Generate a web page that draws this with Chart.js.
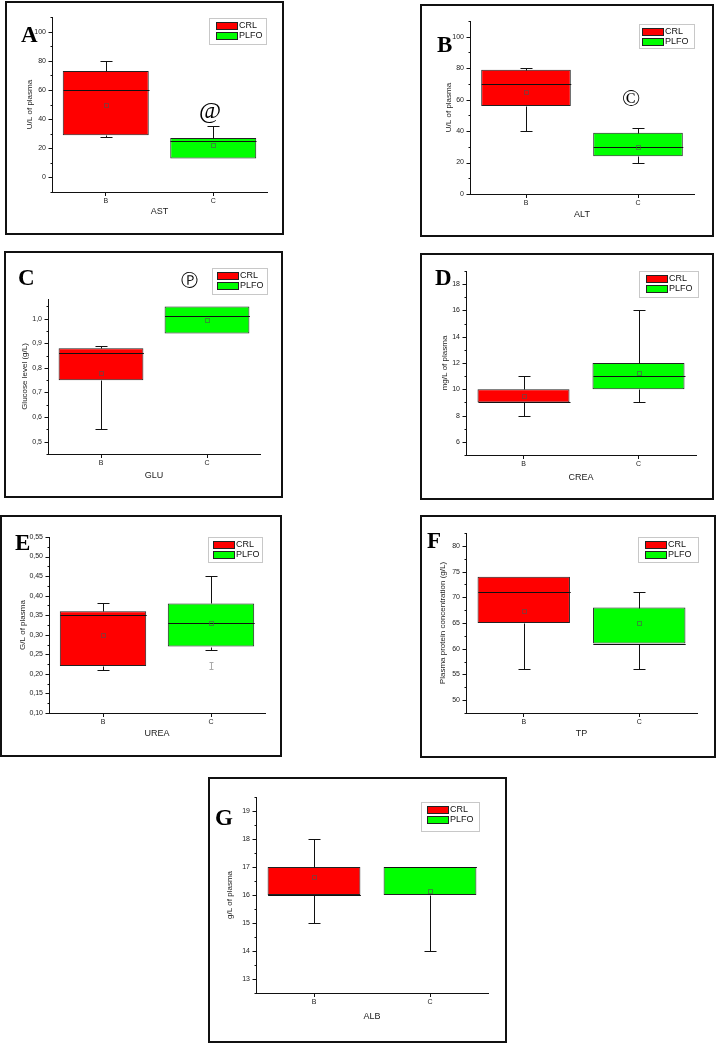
<!DOCTYPE html>
<html><head><meta charset="utf-8">
<script src="https://cdn.jsdelivr.net/npm/chart.js@4.4.1/dist/chart.umd.min.js"></script>
<style>
html,body{margin:0;padding:0;background:#fff;}
body{width:717px;height:1044px;position:relative;overflow:hidden;}
canvas{position:absolute;}
.frame{position:absolute;border:2px solid #111;box-sizing:border-box;pointer-events:none;}
</style></head><body>
<script>
// ---------- DATA ----------
const CATEGORIES = ['B', 'C'];
const SERIES = ['CRL', 'PLFO'];
// box statistics, order: min, q1, median, q3, max, mean
const AST_CRL  = [28, 29, 60, 73, 80, 50];
const AST_PLFO = [13, 13, 25, 27, 35, 22];
const ALT_CRL  = [40, 56, 70, 79, 80, 65];
const ALT_PLFO = [20, 24, 30, 39, 42, 30];
const GLU_CRL  = [0.55, 0.75, 0.86, 0.88, 0.89, 0.78];
const GLU_PLFO = [0.94, 0.94, 1.01, 1.05, 1.05, 0.995];
const CREA_CRL  = [8, 9, 9, 10, 11, 9.5];
const CREA_PLFO = [9, 10, 11, 12, 16, 11.25];
const UREA_CRL  = [0.21, 0.22, 0.35, 0.36, 0.38, 0.30];
const UREA_PLFO = [0.26, 0.27, 0.33, 0.38, 0.45, 0.33];
const UREA_PLFO_MARK = [0.212, 0.23];
const TP_CRL  = [56, 65, 71, 74, 74, 67.3];
const TP_PLFO = [56, 61, 61, 68, 71, 65];
const ALB_CRL  = [15, 16, 16, 17, 18, 16.65];
const ALB_PLFO = [14, 16, 17, 17, 17, 16.15];
// labelled (major) y ticks
const AST_YMAJOR  = [0, 20, 40, 60, 80, 100];
const ALT_YMAJOR  = [0, 20, 40, 60, 80, 100];
const GLU_YMAJOR  = [0.5, 0.6, 0.7, 0.8, 0.9, 1.0];
const CREA_YMAJOR = [6, 8, 10, 12, 14, 16, 18];
const UREA_YMAJOR = [0.10, 0.15, 0.20, 0.25, 0.30, 0.35, 0.40, 0.45, 0.50, 0.55];
const TP_YMAJOR   = [50, 55, 60, 65, 70, 75, 80];
const ALB_YMAJOR  = [13, 14, 15, 16, 17, 18, 19];

// ---------- LAYOUT ----------
const PANELS = [
  {letter:'A', xTitle:'AST', yTitle:'U/L of plasma', crl:AST_CRL, plfo:AST_PLFO, major:AST_YMAJOR, dec:0,
   min:-10, max:110, step:10,
   frame:[5,1,279,234], plot:[52,17,267,192], yTitleX:30, xTitleY:212, letterPos:[21,42],
   legend:[209,18,57,26,216], note:{text:'@', x:210, y:112, font:'24px "Liberation Serif", serif'}},
  {letter:'B', xTitle:'ALT', yTitle:'U/L of plasma', crl:ALT_CRL, plfo:ALT_PLFO, major:ALT_YMAJOR, dec:0,
   min:0, max:110, step:10,
   frame:[420,4,294,233], plot:[470,21,694,194], yTitleX:449, xTitleY:215, letterPos:[437,52],
   legend:[639,24,55,24,642], note:{text:'\u00A9', x:631, y:100, font:'24px "Liberation Serif", serif'}},
  {letter:'C', xTitle:'GLU', yTitle:'Glucose level (g/L)', crl:GLU_CRL, plfo:GLU_PLFO, major:GLU_YMAJOR, dec:1,
   min:0.45, max:1.08, step:0.05,
   frame:[4,251,279,247], plot:[48,299,260,454], yTitleX:25, xTitleY:476, letterPos:[18,285],
   legend:[212,268,55,26,217], note:{text:'\u24C5', x:189, y:282, font:'17px "DejaVu Sans", sans-serif'}},
  {letter:'D', xTitle:'CREA', yTitle:'mg/L of plasma', crl:CREA_CRL, plfo:CREA_PLFO, major:CREA_YMAJOR, dec:0,
   min:5, max:19, step:1,
   frame:[420,253,294,247], plot:[466,271,696,455], yTitleX:445, xTitleY:478, letterPos:[435,285],
   legend:[639,271,59,26,646]},
  {letter:'E', xTitle:'UREA', yTitle:'G/L of plasma', crl:UREA_CRL, plfo:UREA_PLFO, major:UREA_YMAJOR, dec:2,
   min:0.10, max:0.55, step:0.025, mark:UREA_PLFO_MARK,
   frame:[0,515,282,242], plot:[49,537,265,713], yTitleX:23, xTitleY:734, letterPos:[15,550],
   legend:[208,537,54,25,213]},
  {letter:'F', xTitle:'TP', yTitle:'Plasma protein concentration (g/L)', crl:TP_CRL, plfo:TP_PLFO, major:TP_YMAJOR, dec:0,
   min:47.5, max:82.5, step:2.5,
   frame:[420,515,296,243], plot:[466,533,697,713], yTitleX:443, xTitleY:734, letterPos:[427,548],
   legend:[638,537,60,25,645]},
  {letter:'G', xTitle:'ALB', yTitle:'g/L of plasma', crl:ALB_CRL, plfo:ALB_PLFO, major:ALB_YMAJOR, dec:0,
   min:12.5, max:19.5, step:0.5,
   frame:[208,777,299,266], plot:[256,797,488,993], yTitleX:230, xTitleY:1017, letterPos:[215,825],
   legend:[421,802,58,29,427]}
];

const FONT = '"Liberation Sans", Arial, Helvetica, sans-serif';
const COLORS = ['#ff0000', '#00ff00'];
function fmt(v, dec){ return v.toFixed(dec).replace('.', ','); }

function makePlugin(p){
  const fx = p.frame[0], fy = p.frame[1];
  return {
    id: 'panel' + p.letter,
    afterDatasetsDraw(chart){
      const ctx = chart.ctx, ys = chart.scales.y;
      const py = v => Math.round(ys.getPixelForValue(v)) + 0.5;
      const seg = (x1,y1,x2,y2) => { ctx.beginPath(); ctx.moveTo(x1,y1); ctx.lineTo(x2,y2); ctx.stroke(); };
      chart.data.datasets.forEach((ds, di) => {
        const el = chart.getDatasetMeta(di).data[di];
        const s = ds.stats;
        const cx = Math.round(el.x) + 0.5, hw = el.width / 2;
        ctx.save();
        ctx.strokeStyle = '#111'; ctx.lineWidth = 1;
        seg(cx - hw, py(s[2]), cx + hw, py(s[2]));
        if (s[4] > s[3]) { seg(cx, py(s[3]), cx, py(s[4])); seg(cx - 6, py(s[4]), cx + 6, py(s[4])); }
        if (s[0] < s[1]) { seg(cx, py(s[1]), cx, py(s[0])); seg(cx - 6, py(s[0]), cx + 6, py(s[0])); }
        ctx.strokeStyle = 'rgba(80,80,80,0.6)';
        ctx.strokeRect(cx - 2, py(s[5]) - 2, 4, 4);
        ctx.restore();
      });
      if (p.mark) {
        const el = chart.getDatasetMeta(1).data[1];
        const cx = Math.round(el.x) + 0.5;
        ctx.save(); ctx.strokeStyle = '#aaa'; ctx.lineWidth = 1;
        seg(cx, py(p.mark[0]), cx, py(p.mark[1]));
        seg(cx - 2, py(p.mark[0]), cx + 2, py(p.mark[0]));
        seg(cx - 2, py(p.mark[1]), cx + 2, py(p.mark[1]));
        ctx.restore();
      }
    },
    afterDraw(chart){
      const ctx = chart.ctx, ys = chart.scales.y;
      const ax = Math.round(chart.chartArea.left) + 0.5;
      const seg = (x1,y1,x2,y2) => { ctx.beginPath(); ctx.moveTo(x1,y1); ctx.lineTo(x2,y2); ctx.stroke(); };
      ctx.save();
      ctx.strokeStyle = '#111'; ctx.lineWidth = 1;
      ys.ticks.forEach(t => {
        const y = Math.round(ys.getPixelForValue(t.value)) + 0.5;
        const len = t.label ? 4 : 2;
        seg(ax - len, y, ax, y);
      });
      // legend
      const [lx, ly, lw, lh, sx] = p.legend;
      ctx.fillStyle = '#fff'; ctx.strokeStyle = '#c8c8c8';
      ctx.fillRect(lx - fx, ly - fy, lw, lh);
      ctx.strokeRect(lx - fx + 0.5, ly - fy + 0.5, lw, lh);
      chart.data.datasets.forEach((ds, i) => {
        const top = ly - fy + 4 + i * 10;
        ctx.fillStyle = ds.backgroundColor;
        ctx.fillRect(sx - fx, top, 21, 7);
        ctx.strokeStyle = '#222';
        ctx.strokeRect(sx - fx + 0.5, top + 0.5, 21, 7);
        ctx.fillStyle = '#111';
        ctx.font = '9px ' + FONT;
        ctx.textBaseline = 'middle'; ctx.textAlign = 'left';
        ctx.fillText(ds.label, sx - fx + 23, top + 4);
      });
      // panel letter
      ctx.fillStyle = '#000';
      ctx.font = 'bold 23px "Liberation Serif", "Times New Roman", serif';
      ctx.textBaseline = 'alphabetic'; ctx.textAlign = 'left';
      ctx.fillText(p.letter, p.letterPos[0] - fx, p.letterPos[1] - fy);
      if (p.note) {
        ctx.font = p.note.font;
        ctx.textAlign = 'center'; ctx.textBaseline = 'middle';
        ctx.fillText(p.note.text, p.note.x - fx, p.note.y - fy);
      }
      ctx.restore();
    }
  };
}

function makeChart(p){
  const [fx, fy, fw, fh] = p.frame;
  const [pl, pt, pr, pb] = p.plot;
  const cv = document.createElement('canvas');
  cv.width = fw; cv.height = fh;
  Object.assign(cv.style, {left: fx + 'px', top: fy + 'px', width: fw + 'px', height: fh + 'px'});
  document.body.appendChild(cv);
  const fr = document.createElement('div');
  fr.className = 'frame';
  Object.assign(fr.style, {left: fx + 'px', top: fy + 'px', width: fw + 'px', height: fh + 'px'});
  document.body.appendChild(fr);

  const yTitleSize = 8, xTitleSize = 9;
  const padLeft = p.yTitleX - fx - yTitleSize * 1.2 / 2;
  const yW = pl - fx - padLeft;
  const padBottom = fy + fh - p.xTitleY - xTitleSize * 1.2 / 2;
  const xH = fy + fh - padBottom - pb;

  new Chart(cv, {
    type: 'bar',
    data: {
      labels: CATEGORIES,
      datasets: [
        {label: SERIES[0], data: [[p.crl[1], p.crl[3]], null], backgroundColor: COLORS[0], stats: p.crl},
        {label: SERIES[1], data: [null, [p.plfo[1], p.plfo[3]]], backgroundColor: COLORS[1], stats: p.plfo}
      ]
    },
    options: {
      responsive: false, animation: false, devicePixelRatio: 1,
      layout: {padding: {left: padLeft, top: pt - fy, right: fx + fw - pr, bottom: padBottom}},
      datasets: {bar: {grouped: false, barPercentage: 0.8, categoryPercentage: 1,
        borderColor: '#222', borderWidth: 1, borderSkipped: false}},
      plugins: {legend: {display: false}, tooltip: {enabled: false}},
      scales: {
        x: {
          type: 'category', offset: true,
          grid: {display: true, drawOnChartArea: false, drawTicks: true, tickLength: 4, tickColor: '#111', offset: false},
          border: {display: true, color: '#111', width: 1},
          ticks: {font: {size: 7, family: FONT}, color: '#222', padding: 1},
          title: {display: true, text: p.xTitle, font: {size: xTitleSize, family: FONT}, color: '#222', padding: 0},
          afterFit: s => { s.height = xH; }
        },
        y: {
          type: 'linear', min: p.min, max: p.max,
          grid: {display: false, drawTicks: false, tickLength: 0},
          border: {display: true, color: '#111', width: 1},
          afterBuildTicks: s => {
            const t = [];
            for (let k = 0; ; k++) {
              const v = Math.round((p.min + k * p.step) * 1e6) / 1e6;
              if (v > p.max + 1e-9) break;
              t.push({value: v});
            }
            s.ticks = t;
          },
          ticks: {
            autoSkip: false, font: {size: 7, family: FONT}, color: '#222', padding: 6,
            callback: v => p.major.some(m => Math.abs(m - v) < 1e-7) ? fmt(v, p.dec) : ''
          },
          title: {display: true, text: p.yTitle, font: {size: yTitleSize, family: FONT}, color: '#222', padding: 0},
          afterFit: s => { s.width = yW; }
        }
      }
    },
    plugins: [makePlugin(p)]
  });
}

PANELS.forEach(makeChart);
</script>
</body></html>
